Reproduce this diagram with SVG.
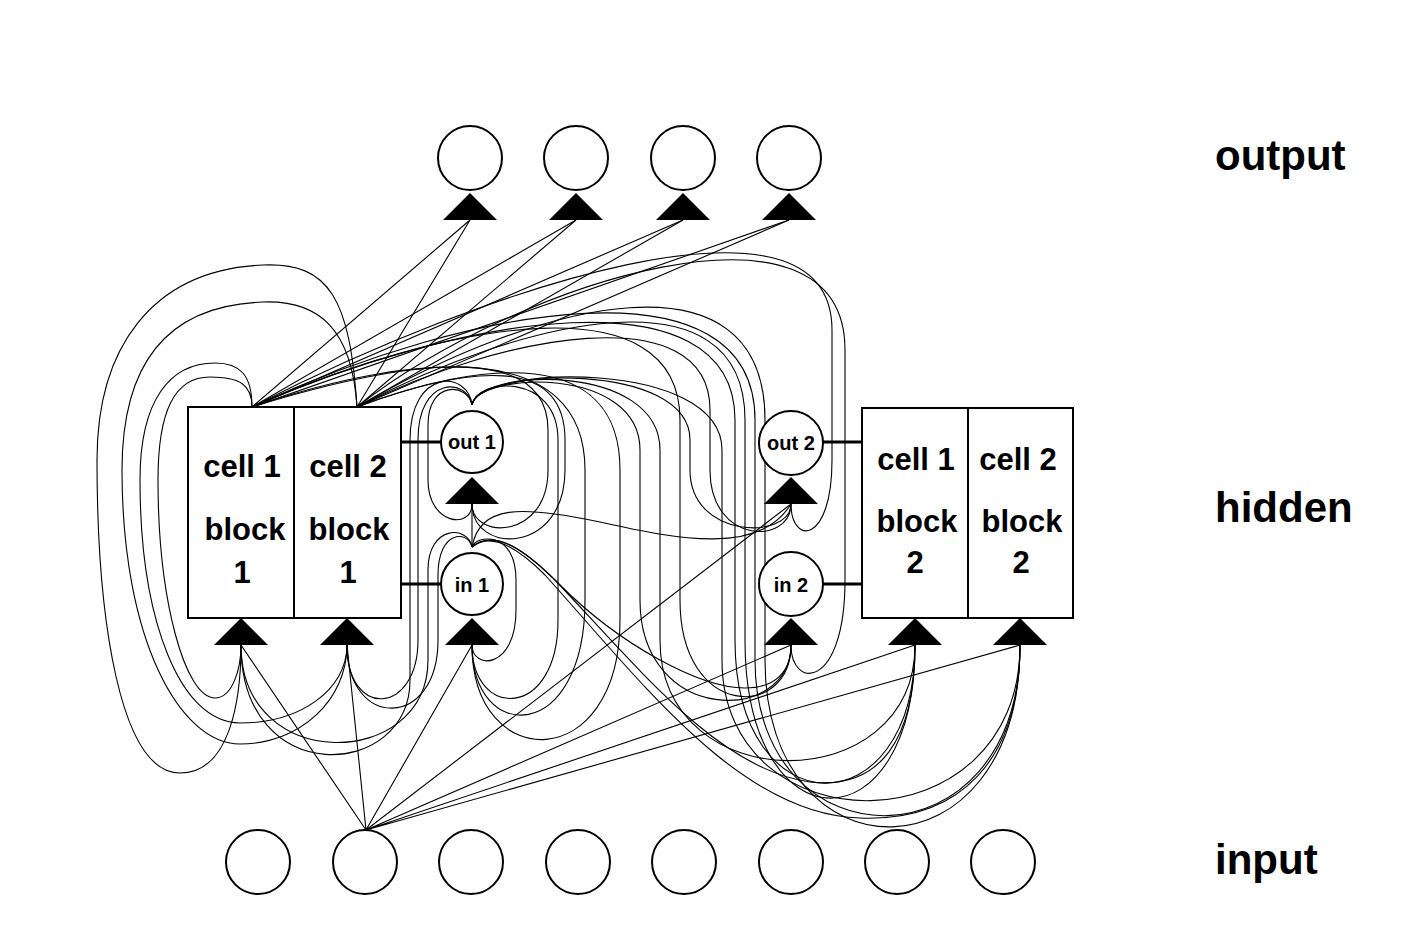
<svg xmlns="http://www.w3.org/2000/svg" width="1422" height="926" viewBox="0 0 1422 926">
<defs>
<style>
.c{fill:none;stroke:#000;stroke-width:1.1}
.n{fill:#fff;stroke:#000;stroke-width:2}
.t{fill:#000;stroke:none}
.w{stroke:#000;stroke-width:3}
.lb{font-family:"Liberation Sans",Arial,Helvetica,sans-serif;font-weight:bold;fill:#000}
.big{font-size:42px}
.cel{font-size:31px;text-anchor:middle}
.g{font-size:20px;text-anchor:middle}
</style>
</defs>
<rect width="1422" height="926" fill="#fff"/>
<g id="connectors">
<!-- cells block1 to outputs -->
<path class="c" d="M252,407L470,220M252,407L576,220M252,407L683,220M252,407L789,220"/>
<path class="c" d="M357,407L470,220M357,407L576,220M357,407L683,220M357,407L789,220"/>
<!-- input 2 to hidden -->
<path class="c" d="M366,830L241,645M366,830L347,645M366,830L472,645M366,830L791,504M366,830L791,645M366,830L915,645M366,830L1020,645"/>
<!-- left loops from cells -->
<path class="c" d="M357,407C350,300 330,262 263,265C150,270 97,350 97,460C97,620 120,773 180,773C230,773 241,700 241,645"/>
<path class="c" d="M357,407C352,330 320,300 263,302C170,305 122,360 122,470C122,640 180,744 240,744C300,744 347,700 347,645"/>
<path class="c" d="M252,407C252,375 240,363 215,363C170,363 140,400 140,480C140,620 180,723 240,723C300,723 347,690 347,645"/>
<path class="c" d="M252,407C252,385 240,377 210,377C175,377 158,410 158,480C158,600 185,698 215,698C232,698 241,670 241,645"/>
<!-- cell1 block1 to the right -->
<path class="c" d="M252,407C420,350 585,340 585,470L585,600C585,745 472,745 472,645"/>
<path class="c" d="M252,407C420,355 548,345 548,430L548,470C548,540 472,540 472,504"/>
<path class="c" d="M252,407C450,320 680,280 680,420L680,600C680,720 791,720 791,645"/>
<path class="c" d="M252,407C480,290 832,170 832,330L832,460C832,545 791,545 791,504"/>
<path class="c" d="M252,407C460,315 735,270 735,420L735,640C735,830 915,830 915,645"/>
<path class="c" d="M252,407C470,305 755,255 755,420L755,660C755,870 1020,870 1020,645"/>
<!-- cell2 block1 to the right -->
<path class="c" d="M357,407C480,360 620,345 620,470L620,620C620,775 472,775 472,645"/>
<path class="c" d="M357,407C470,365 565,355 565,440L565,470C565,555 472,555 472,504"/>
<path class="c" d="M357,407C520,280 845,180 845,350L845,580C845,690 791,690 791,645"/>
<path class="c" d="M357,407C500,335 710,295 710,410L710,470C710,545 791,545 791,504"/>
<path class="c" d="M357,407C520,320 745,265 745,420L745,640C745,850 915,850 915,645"/>
<path class="c" d="M357,407C540,300 765,245 765,420L765,660C765,885 1020,885 1020,645"/>
<!-- out1 gate -->
<path class="c" d="M472,405C468,370 410,368 410,440L410,680C410,780 241,790 241,645"/>
<path class="c" d="M472,405C468,378 418,375 418,440L418,640C418,715 347,720 347,645"/>
<path class="c" d="M472,405C476,378 558,372 558,440L558,620C558,720 472,720 472,645"/>
<path class="c" d="M472,405C468,383 428,380 428,425L428,480C428,525 472,530 472,504"/>
<path class="c" d="M472,405C478,372 640,365 640,450L640,600C640,725 791,725 791,645"/>
<path class="c" d="M472,405C478,368 690,360 690,440L690,470C690,540 791,540 791,504"/>
<path class="c" d="M472,405C478,368 660,362 660,450L660,640C660,800 915,800 915,645"/>
<path class="c" d="M472,405C478,365 722,358 722,450L722,660C722,850 1020,850 1020,645"/>
<!-- in1 gate -->
<path class="c" d="M472,547C468,525 428,525 428,570L428,660C428,770 241,775 241,645"/>
<path class="c" d="M472,547C468,530 438,530 438,575L438,640C438,730 347,730 347,645"/>
<path class="c" d="M472,547C476,535 516,530 516,580L516,610C516,670 472,670 472,645"/>
<path class="c" d="M472,547L472,504"/>
<path class="c" d="M472,547C495,528 525,550 560,585C620,645 700,688 745,688C775,688 791,672 791,645"/>
<path class="c" d="M472,547C480,505 520,505 600,522C680,540 760,555 791,504"/>
<path class="c" d="M472,547C492,530 520,545 555,580C640,670 720,770 810,782C880,790 915,740 915,645"/>
<path class="c" d="M472,547C490,532 515,545 545,575C640,680 740,815 860,818C960,822 1020,760 1020,645"/>
<!-- gate to block links -->
<path class="w" d="M401,442H442M401,584H442M823,442H862M823,584H862"/>
</g>
<g id="output-layer">
<circle class="n" cx="470" cy="158" r="32"/><path class="t" d="M470,193L497,220H443Z"/>
<circle class="n" cx="576" cy="158" r="32"/><path class="t" d="M576,193L603,220H549Z"/>
<circle class="n" cx="683" cy="158" r="32"/><path class="t" d="M683,193L710,220H656Z"/>
<circle class="n" cx="789" cy="158" r="32"/><path class="t" d="M789,193L816,220H762Z"/>
</g>
<g id="block1">
<rect class="n" x="188" y="407" width="213" height="211"/>
<path d="M294,407V618" stroke="#000" stroke-width="2"/>
<text class="lb cel" x="242" y="477">cell 1</text>
<text class="lb cel" x="245" y="540">block</text>
<text class="lb cel" x="242" y="583">1</text>
<text class="lb cel" x="348" y="477">cell 2</text>
<text class="lb cel" x="349" y="540">block</text>
<text class="lb cel" x="348" y="583">1</text>
<path class="t" d="M241,618L268,645H214Z"/>
<path class="t" d="M347,618L374,645H320Z"/>
</g>
<g id="out1">
<circle class="n" cx="472" cy="442" r="31"/>
<text class="lb g" x="472" y="449">out 1</text>
<path class="t" d="M472,477L499,504H445Z"/>
</g>
<g id="in1">
<circle class="n" cx="472" cy="584" r="31"/>
<text class="lb g" x="472" y="592">in 1</text>
<path class="t" d="M472,618L499,645H445Z"/>
</g>
<g id="out2">
<circle class="n" cx="791" cy="443" r="32"/>
<text class="lb g" x="791" y="450">out 2</text>
<path class="t" d="M791,477L818,504H764Z"/>
</g>
<g id="in2">
<circle class="n" cx="791" cy="584" r="32"/>
<text class="lb g" x="791" y="592">in 2</text>
<path class="t" d="M791,618L818,645H764Z"/>
</g>
<g id="block2">
<rect class="n" x="862" y="408" width="211" height="210"/>
<path d="M968,408V618" stroke="#000" stroke-width="2"/>
<text class="lb cel" x="916" y="470">cell 1</text>
<text class="lb cel" x="917" y="532">block</text>
<text class="lb cel" x="915" y="573">2</text>
<text class="lb cel" x="1018" y="470">cell 2</text>
<text class="lb cel" x="1022" y="532">block</text>
<text class="lb cel" x="1021" y="573">2</text>
<path class="t" d="M915,618L942,645H888Z"/>
<path class="t" d="M1020,618L1047,645H993Z"/>
</g>
<g id="input-layer">
<circle class="n" cx="258" cy="862" r="32"/>
<circle class="n" cx="365" cy="862" r="32"/>
<circle class="n" cx="471" cy="862" r="32"/>
<circle class="n" cx="578" cy="862" r="32"/>
<circle class="n" cx="684" cy="862" r="32"/>
<circle class="n" cx="791" cy="862" r="32"/>
<circle class="n" cx="897" cy="862" r="32"/>
<circle class="n" cx="1003" cy="862" r="32"/>
</g>
<g id="labels">
<text class="lb big" x="1215" y="170">output</text>
<text class="lb big" x="1215" y="522">hidden</text>
<text class="lb big" x="1215" y="874">input</text>
</g>
</svg>
